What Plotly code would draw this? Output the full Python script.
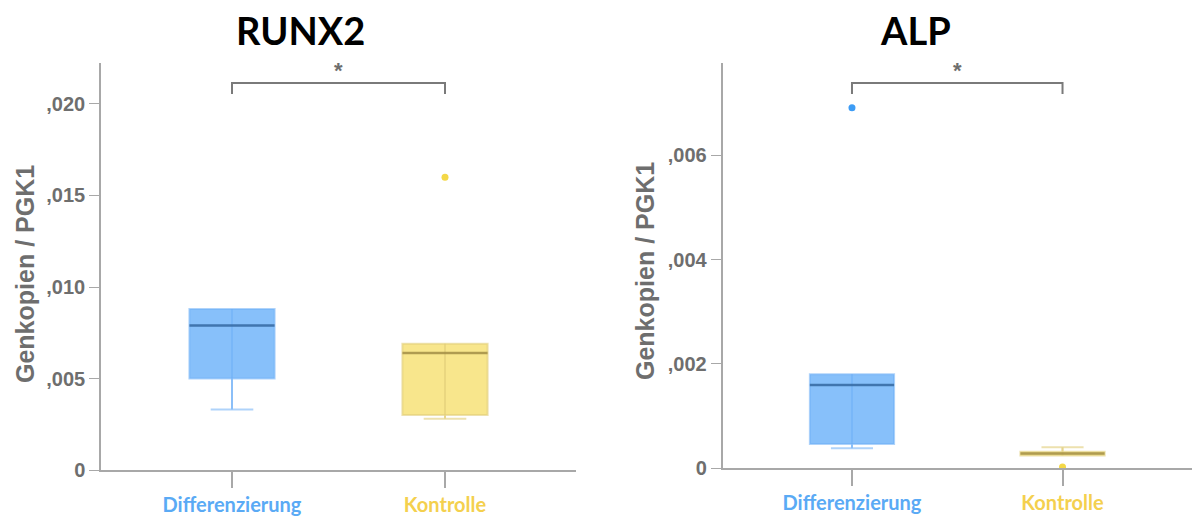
import plotly.graph_objects as go

# Group labels
groups = ["Differenzierung", "Kontrolle"]
group_colors = ["#5aaaf5", "#f4d04e"]

# RUNX2 summary statistics (Genkopien / PGK1)
runx2_q1 = [0.0050, 0.0030]
runx2_median = [0.0079, 0.0064]
runx2_q3 = [0.0088, 0.0069]
runx2_lower = [0.0033, 0.0028]
runx2_upper = [0.0088, 0.0069]
runx2_outlier_group = [1]
runx2_outlier_value = [0.0160]

# ALP summary statistics (Genkopien / PGK1)
alp_q1 = [0.00046, 0.00024]
alp_median = [0.00159, 0.00028]
alp_q3 = [0.00180, 0.00031]
alp_lower = [0.00038, 0.00024]
alp_upper = [0.00180, 0.00040]
alp_outlier_group = [0, 1]
alp_outlier_value = [0.00691, 0.00002]

# Axis ticks
runx2_ticks = [0, 0.005, 0.010, 0.015, 0.020]
runx2_ticktext = ["0", ",005", ",010", ",015", ",020"]
alp_ticks = [0, 0.002, 0.004, 0.006]
alp_ticktext = ["0", ",002", ",004", ",006"]

fills = ["rgb(135,192,250)", "rgb(248,230,140)"]
whisker_cols = ["rgba(110,175,245,0.55)", "rgba(225,205,120,0.6)"]
median_cols = ["rgba(45,95,150,0.75)", "rgba(150,130,60,0.7)"]
outlier_cols = ["#3d9cf5", "#f4d847"]

W, H = 1192, 516
fig = go.Figure()


def add_panel(xa, ya, q1, med, q3, lo, hi, og, ov):
    for i in range(len(groups)):
        fig.add_trace(go.Box(
            x=[i], q1=[q1[i]], median=[med[i]], q3=[q3[i]],
            lowerfence=[lo[i]], upperfence=[hi[i]],
            width=0.4, whiskerwidth=0.5, boxpoints=False,
            fillcolor=fills[i], line=dict(color=whisker_cols[i], width=2),
            xaxis=xa, yaxis=ya, showlegend=False, hoverinfo="skip"))
        # whisker line running through the box
        fig.add_trace(go.Scatter(
            x=[i, i], y=[lo[i], hi[i]], mode="lines",
            line=dict(color=whisker_cols[i], width=2),
            xaxis=xa, yaxis=ya, showlegend=False, hoverinfo="skip"))
        # darker median bar
        fig.add_trace(go.Scatter(
            x=[i - 0.2, i + 0.2], y=[med[i], med[i]], mode="lines",
            line=dict(color=median_cols[i], width=2.5),
            xaxis=xa, yaxis=ya, showlegend=False, hoverinfo="skip"))
    for g, v in zip(og, ov):
        fig.add_trace(go.Scatter(
            x=[g], y=[v], mode="markers",
            marker=dict(color=outlier_cols[g], size=7),
            xaxis=xa, yaxis=ya, showlegend=False, hoverinfo="skip"))


add_panel("x", "y", runx2_q1, runx2_median, runx2_q3, runx2_lower, runx2_upper,
          runx2_outlier_group, runx2_outlier_value)
add_panel("x2", "y2", alp_q1, alp_median, alp_q3, alp_lower, alp_upper,
          alp_outlier_group, alp_outlier_value)

grey = "#6e6e6e"
axis_grey = "#a8a8a8"
xticktext = [f"<span style='color:{c}'>{g}</span>" for g, c in zip(groups, group_colors)]

xcommon = dict(
    range=[-0.615, 1.615], tickvals=[0, 1], ticktext=xticktext,
    showline=True, linecolor=axis_grey, linewidth=1.5,
    ticks="outside", ticklen=16, tickcolor=axis_grey, tickwidth=1.5,
    showgrid=False, zeroline=False, automargin=False,
    tickfont=dict(family="Lato, Open Sans, sans-serif", size=20, weight="bold"),
)
ycommon = dict(
    showline=True, linecolor=axis_grey, linewidth=1.5,
    ticks="outside", ticklen=10, tickcolor=axis_grey, tickwidth=1,
    showgrid=False, zeroline=False, automargin=False,
    tickfont=dict(family="Liberation Sans, Arial, sans-serif", size=20,
                  color=grey, weight="bold"),
)

fig.update_layout(
    width=W, height=H, autosize=False, margin=dict(l=0, r=0, t=0, b=0),
    paper_bgcolor="white", plot_bgcolor="white", showlegend=False,
    xaxis=dict(domain=[101 / W, 576 / W], anchor="y", **xcommon),
    yaxis=dict(domain=[(H - 470) / H, (H - 63) / H], anchor="x",
               range=[0, 0.02224], tickvals=runx2_ticks, ticktext=runx2_ticktext,
               **ycommon),
    xaxis2=dict(domain=[722.5 / W, 1.0], anchor="y2", **xcommon),
    yaxis2=dict(domain=[(H - 468) / H, (H - 63) / H], anchor="x2",
                range=[0, 0.00777], tickvals=alp_ticks, ticktext=alp_ticktext,
                **ycommon),
)

title_font = dict(family="Lato, Open Sans, sans-serif", size=38, color="black",
                  weight="bold")
ylab_font = dict(family="Liberation Sans, Arial, sans-serif", size=25, color=grey,
                 weight="bold")
annotations = [
    dict(text="RUNX2", x=300 / W, y=(H - 30) / H, xref="paper", yref="paper",
         showarrow=False, font=title_font, xanchor="center", yanchor="middle"),
    dict(text="ALP", x=915 / W, y=(H - 30) / H, xref="paper", yref="paper",
         showarrow=False, font=title_font, xanchor="center", yanchor="middle"),
    dict(text="Genkopien / PGK1", x=25 / W, y=(H - 274) / H, xref="paper",
         yref="paper", textangle=-90, showarrow=False, font=ylab_font,
         xanchor="center", yanchor="middle"),
    dict(text="Genkopien / PGK1", x=645 / W, y=(H - 271) / H, xref="paper",
         yref="paper", textangle=-90, showarrow=False, font=ylab_font,
         xanchor="center", yanchor="middle"),
]

# significance brackets
shapes = []
for xr in ["x", "x2"]:
    shapes.append(dict(type="path", xref=xr, yref="paper",
                       path=f"M 0 {(H - 94) / H} L 0 {(H - 83) / H} L 1 {(H - 83) / H} L 1 {(H - 94) / H}",
                       line=dict(color="#7a7a7a", width=2)))
    annotations.append(dict(text="*", x=0.5, y=(H - 70) / H, xref=xr, yref="paper",
                            showarrow=False, xanchor="center", yanchor="middle",
                            font=dict(family="Liberation Sans, Arial, sans-serif",
                                      size=22, color="#6e6e6e", weight="bold")))

fig.update_layout(annotations=annotations, shapes=shapes)
fig.write_html("out.html", config={"responsive": False})
